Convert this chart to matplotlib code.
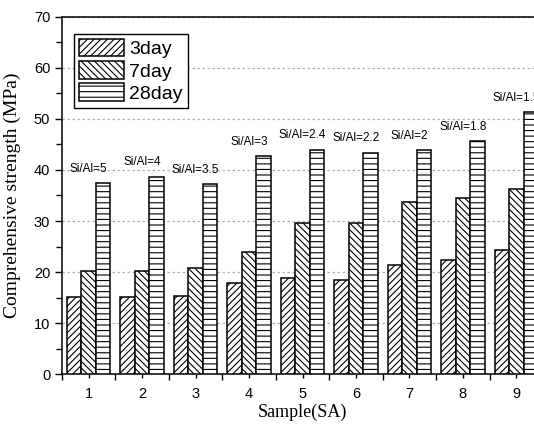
import numpy as np
import matplotlib.pyplot as plt
from matplotlib.ticker import MultipleLocator

samples = [1, 2, 3, 4, 5, 6, 7, 8, 9]
day3 = [15.1, 15.2, 15.4, 17.9, 18.9, 18.5, 21.4, 22.4, 24.4]
day7 = [20.2, 20.3, 20.7, 24.0, 29.6, 29.7, 33.8, 34.6, 36.3]
day28 = [37.5, 38.7, 37.2, 42.8, 44.0, 43.4, 43.9, 45.7, 51.3]
ratio_labels = ['Si/Al=5', 'Si/Al=4', 'Si/Al=3.5', 'Si/Al=3', 'Si/Al=2.4',
                'Si/Al=2.2', 'Si/Al=2', 'Si/Al=1.8', 'Si/Al=1.5']

plt.rcParams['hatch.linewidth'] = 0.8
sans = ['Liberation Sans', 'DejaVu Sans']
serif = ['Liberation Serif', 'DejaVu Serif']

fig = plt.figure(figsize=(5.34, 4.33), dpi=100)
ax = fig.add_axes([0.116, 0.136, 0.901, 0.825])

x = np.array(samples)
w = 0.27
ax.bar(x - w, day3, w, color='white', edgecolor='black', hatch='/////', linewidth=1.1, label='3day', zorder=3)
ax.bar(x, day7, w, color='white', edgecolor='black', hatch='\\\\\\\\\\', linewidth=1.1, label='7day', zorder=3)
ax.bar(x + w, day28, w, color='white', edgecolor='black', hatch='---', linewidth=1.1, label='28day', zorder=3)

for xi, yi, lab in zip(x, day28, ratio_labels):
    ax.text(xi, yi + 1.6, lab, ha='center', va='bottom', fontsize=8.5, family=sans)

ax.set_xlim(0.5, 9.5)
ax.set_ylim(0, 70)
ax.set_xticks(samples)
ax.set_xticks([s + 0.5 for s in [0] + samples], minor=True)
ax.yaxis.set_major_locator(MultipleLocator(10))
ax.yaxis.set_minor_locator(MultipleLocator(5))
ax.tick_params(axis='both', which='major', direction='out', length=5, width=1, labelsize=10.5)
ax.tick_params(axis='x', which='major', length=3, pad=6)
ax.tick_params(axis='both', which='minor', direction='out', length=4, width=1)
for lab in ax.get_xticklabels() + ax.get_yticklabels():
    lab.set_family(sans)

ax.grid(axis='y', which='major', color='#b0b0b0', linestyle=(0, (2, 2)), linewidth=0.9, zorder=0)
for sp in ax.spines.values():
    sp.set_linewidth(1.1)

ax.set_xlabel('Sample(SA)', fontsize=13, family=serif, labelpad=2)
ax.set_ylabel('Comprehensive strength (MPa)', fontsize=14, family=serif)
ax.yaxis.set_label_coords(-0.085, 0.5)

leg = ax.legend(loc='upper left', bbox_to_anchor=(0.025, 0.952), prop={'family': sans, 'size': 14},
                frameon=True, fancybox=False, edgecolor='black', framealpha=1,
                handlelength=2.3, handleheight=1.0, handletextpad=0.3, labelspacing=0.15,
                borderpad=0.25, borderaxespad=0)
leg.get_frame().set_linewidth(1.0)

fig.savefig('out.png', dpi=100)
